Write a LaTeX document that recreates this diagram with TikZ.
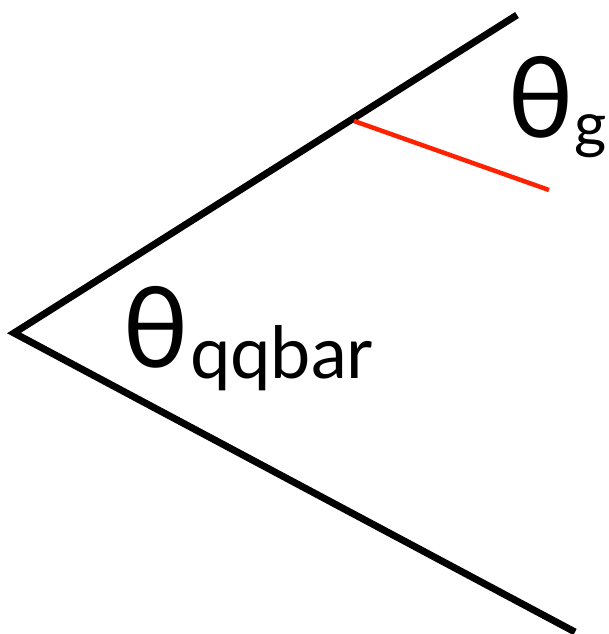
\documentclass[tikz,border=0pt]{standalone}
\usepackage{fontspec}
\setmainfont{Lato}
\definecolor{gred}{RGB}{255,34,0}
\begin{document}
\begin{tikzpicture}[x=1pt,y=-1pt,
  blk/.style={line width=7pt,black},
  redl/.style={line width=4.5pt,gred},
  lbl/.style={inner sep=0pt,anchor=base west}]
\useasboundingbox (0,0) rectangle (608,634);
\coordinate (v) at (14,333);
\coordinate (a) at (517,15);
\coordinate (b) at (575,632);
\coordinate (r1) at (354,121);
\coordinate (r2) at (549,190);
\draw[blk,line join=miter] (a) -- (v) -- (b);
\draw[redl] (r1) -- (r2);
\node[lbl] (t1) at (122,367) {\fontsize{112}{120}\selectfont θ};
\node[lbl] (s1) at (190,378) {\fontsize{72}{80}\selectfont qqbar};
\node[lbl] (t2) at (507,137) {\fontsize{112}{120}\selectfont θ};
\node[lbl] (s2) at (574,146) {\fontsize{62}{70}\selectfont g};
\end{tikzpicture}
\end{document}
